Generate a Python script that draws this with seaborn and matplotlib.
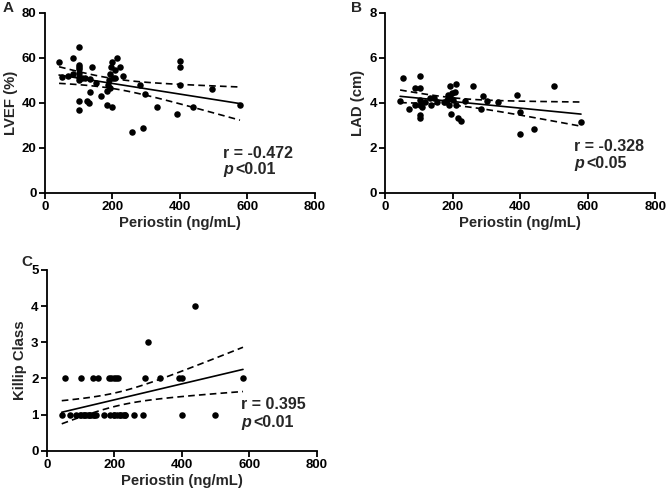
import numpy as np
import pandas as pd
import matplotlib
matplotlib.use("Agg")
import matplotlib.pyplot as plt
import seaborn as sns

# Panel A: periostin vs LVEF
lvef_x = [42, 51, 69, 82, 84, 101, 101, 101, 101, 101, 101, 101, 101, 101, 111, 118,
          125, 131, 133, 133, 141, 151, 166, 183, 183, 193, 191, 193, 195, 200, 200,
          207, 209, 215, 222, 232, 257, 282, 291, 298, 331, 390, 400, 400, 400, 438,
          495, 578, 188, 203]
lvef_y = [58, 51.5, 52, 53, 60, 65, 57, 56, 55, 53.5, 51.5, 50, 41, 37, 51, 51,
          41, 40, 45, 50.5, 56, 49, 43, 39, 45.5, 46.5, 50, 53, 56, 58, 38,
          54.5, 51, 60, 56, 52, 27, 48, 29, 44, 38, 35, 58.5, 56, 48, 38,
          46, 39, 48, 51]

# Panel B: periostin vs LAD
lad_x = [44, 54, 71, 87, 89, 104, 104, 104, 104, 104, 104, 109, 118, 133, 136, 143,
         153, 173, 183, 185, 188, 193, 193, 195, 197, 202, 207, 210, 210, 217, 225,
         235, 260, 284, 291, 301, 334, 390, 400, 400, 441, 499, 580]
lad_y = [4.1, 5.1, 3.72, 4.68, 3.91, 5.2, 4.68, 4.13, 3.91, 3.46, 3.32, 3.84, 4.06,
         4.21, 3.91, 4.21, 4.06, 4.06, 4.13, 4.36, 3.91, 4.76, 4.28, 3.49, 4.43, 4.13,
         4.5, 4.83, 3.91, 3.32, 3.21, 4.1, 4.77, 3.72, 4.31, 4.09, 4.06, 4.36, 3.61,
         2.6, 2.84, 4.76, 3.17]

# Panel C: periostin vs Killip class (overlapping points repeated)
killip_x = [44, 69, 87, 99, 109, 117, 124, 131, 139, 146, 168, 188, 198, 207, 217,
            225, 232, 259, 284, 400, 499, 101, 109, 124, 139, 198, 217, 232,
            54, 102, 136, 151, 183, 191, 198, 206, 212, 291, 334, 390, 400, 581,
            299, 440]
killip_y = [1] * 28 + [2] * 14 + [3, 4]

panels = [
    ("A", lvef_x, lvef_y, "LVEF (%)", [0, 20, 40, 60, 80], "r = -0.472", "<0.01"),
    ("B", lad_x, lad_y, "LAD (cm)", [0, 2, 4, 6, 8], "r = -0.328", "<0.05"),
    ("C", killip_x, killip_y, "Killip Class", [0, 1, 2, 3, 4, 5], "r = 0.395", "<0.01"),
]
x_ticks = [0, 200, 400, 600, 800]


def ci_band(x, y, xs):
    x = np.asarray(x, float)
    y = np.asarray(y, float)
    n = len(x)
    slope, icpt = np.polyfit(x, y, 1)
    resid = y - (slope * x + icpt)
    s = np.sqrt(np.sum(resid ** 2) / (n - 2))
    sxx = np.sum((x - x.mean()) ** 2)
    t = 2.01
    half = t * s * np.sqrt(1.0 / n + (xs - x.mean()) ** 2 / sxx)
    fit = slope * xs + icpt
    return fit - half, fit + half


sns.set_style("ticks")
plt.rcParams["font.family"] = ["Liberation Sans", "DejaVu Sans"]
plt.rcParams["font.weight"] = "bold"

fig = plt.figure(figsize=(6.7, 4.96), dpi=100)
rects = {
    "A": [0.067, 0.611, 0.403, 0.363],
    "B": [0.575, 0.611, 0.403, 0.363],
    "C": [0.070, 0.091, 0.403, 0.365],
}
text_pos = {"A": (0.66, 0.217, 0.128), "B": (0.70, 0.256, 0.161), "C": (0.72, 0.254, 0.155)}
letter_pos = {"A": (0.004, 0.984), "B": (0.524, 0.984), "C": (0.032, 0.472)}

for letter, xs, ys, ylab, yt, rtxt, ptxt in panels:
    ax = fig.add_axes(rects[letter])
    df = pd.DataFrame({"x": xs, "y": ys})
    sns.regplot(data=df, x="x", y="y", ax=ax, ci=None, truncate=True,
                scatter_kws={"s": 22, "color": "black", "linewidths": 0, "alpha": 1},
                line_kws={"color": "black", "lw": 1.2})
    grid = np.linspace(min(xs), max(xs), 100)
    lo, hi = ci_band(xs, ys, grid)
    ax.plot(grid, lo, color="black", lw=1.2, ls=(0, (4, 2.5)))
    ax.plot(grid, hi, color="black", lw=1.2, ls=(0, (4, 2.5)))

    ax.set_xlim(0, 800)
    ax.set_ylim(yt[0], yt[-1])
    ax.set_xticks(x_ticks)
    ax.set_yticks(yt)
    ax.tick_params(labelsize=9.5, width=1.3, length=4, colors="black", pad=2)
    for lab in ax.get_xticklabels() + ax.get_yticklabels():
        lab.set_fontweight("bold")
    for side in ["left", "bottom"]:
        ax.spines[side].set_linewidth(1.3)
        ax.spines[side].set_color("black")
    sns.despine(ax=ax)
    ax.set_xlabel("Periostin (ng/mL)", fontsize=10.7, fontweight="bold", labelpad=2)
    ax.set_ylabel(ylab, fontsize=10.7, fontweight="bold", labelpad=3)

    tx, ry, py = text_pos[letter]
    ax.text(tx, ry, rtxt, transform=ax.transAxes, fontsize=11.5, fontweight="bold",
            va="center", ha="left")
    ax.text(tx, py, "p", transform=ax.transAxes, fontsize=11.5, fontweight="bold",
            fontstyle="italic", va="center", ha="left")
    ax.text(tx + 0.045, py, ptxt, transform=ax.transAxes, fontsize=11.5,
            fontweight="bold", va="center", ha="left")
    lx, ly = letter_pos[letter]
    fig.text(lx, ly, letter, fontsize=11, fontweight="bold", va="center", ha="left")

fig.savefig("out.png", dpi=100)
